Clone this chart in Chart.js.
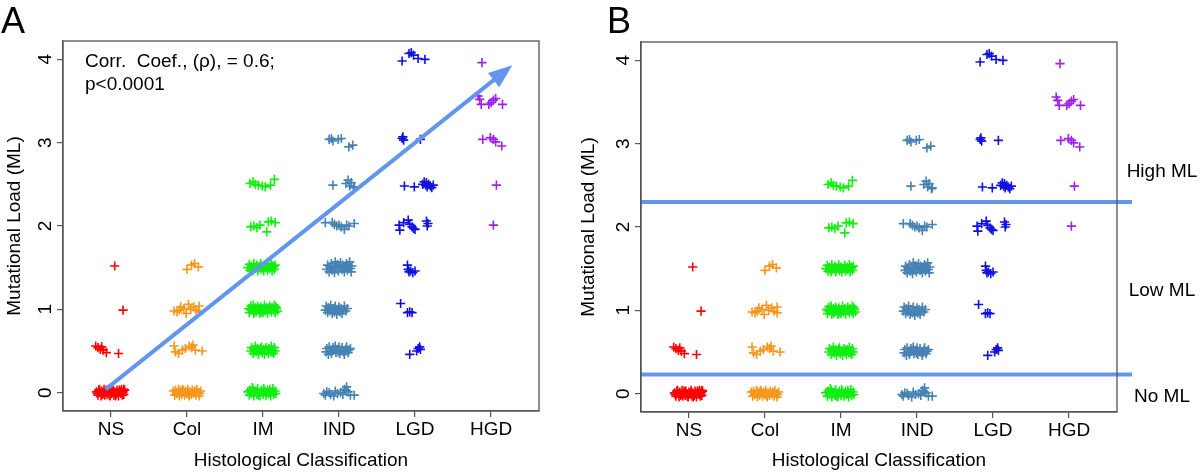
<!DOCTYPE html>
<html><head><meta charset="utf-8">
<script src="https://cdn.jsdelivr.net/npm/chart.js@4.4.0/dist/chart.umd.min.js"></script>
<style>
html,body{margin:0;padding:0;background:#fff;width:1200px;height:476px;overflow:hidden}
#wa{position:absolute;left:0;top:0;width:575px;height:476px}
#wb{position:absolute;left:575px;top:0;width:625px;height:476px}
</style></head><body>
<div id="wa"><canvas id="ca"></canvas></div>
<div id="wb"><canvas id="cb"></canvas></div>
<script>
// ---------- data ----------
const categories = ['NS', 'Col', 'IM', 'IND', 'LGD', 'HGD'];
const yTicks = [0, 1, 2, 3, 4];
const xTitle = 'Histological Classification';
const yTitle = 'Mutational Load (ML)';
const panelLetters = ['A', 'B'];
const corrLines = ['Corr.  Coef., (\u03c1), = 0.6;', 'p<0.0001'];
const zoneNames = ['High ML', 'Low ML', 'No ML'];
const zoneLabelY = [2.66, 1.23, -0.04];
const mlCutoffs = [0.23, 2.30];
const arrowFrom = [0.93, 0.04];
const arrowTo = [6.28, 3.93];

// points: [jitter offset from category, mutational load]
const NS = [
 [-0.19,0.01],[-0.17,-0.03],[-0.16,0.03],[-0.14,0.0],[-0.13,-0.04],[-0.12,0.02],[-0.10,-0.01],[-0.09,0.04],
 [-0.08,-0.03],[-0.07,0.01],[-0.05,-0.02],[-0.04,0.03],[-0.03,0.0],[-0.01,-0.04],[0.0,0.02],[0.01,-0.01],
 [0.03,0.04],[0.04,-0.03],[0.05,0.01],[0.07,-0.02],[0.08,0.03],[0.09,0.0],[0.10,-0.04],[0.12,0.02],
 [0.13,-0.01],[0.14,0.04],[0.15,-0.03],[0.16,0.01],[0.17,-0.02],[0.18,0.03],[-0.18,-0.01],[-0.15,0.04],
 [-0.11,-0.02],[-0.06,0.03],[0.02,0.01],[0.06,-0.04],[0.11,0.03],[0.15,0.0],[-0.02,-0.03],[0.17,0.04],
 [-0.20,0.56],[-0.17,0.54],[-0.14,0.52],[-0.12,0.55],[-0.10,0.51],[-0.06,0.48],[0.10,0.47],
 [0.16,0.99],[0.05,1.52]
];
const Col = [
 [-0.18,0.02],[-0.16,-0.03],[-0.15,0.03],[-0.13,-0.01],[-0.11,0.04],[-0.10,-0.04],[-0.08,0.01],[-0.07,-0.02],
 [-0.05,0.03],[-0.03,-0.03],[-0.02,0.02],[0.0,-0.01],[0.01,0.04],[0.03,-0.04],[0.04,0.01],[0.06,-0.02],
 [0.07,0.03],[0.09,-0.01],[0.10,0.02],[0.12,-0.03],[0.13,0.04],[0.15,0.0],[0.16,-0.04],[0.18,0.02],
 [-0.14,0.0],[-0.06,0.04],[0.02,-0.02],[0.11,0.01],[0.17,-0.01],[-0.09,0.02],
 [-0.17,0.56],[-0.15,0.49],[-0.11,0.47],[-0.06,0.51],[-0.02,0.53],[0.03,0.56],[0.06,0.54],[0.08,0.57],
 [0.11,0.51],[0.20,0.50],
 [-0.17,0.98],[-0.13,0.97],[-0.08,1.03],[-0.04,1.01],[-0.01,0.95],[0.02,1.06],[0.05,1.00],[0.09,1.03],
 [0.12,0.99],[0.16,1.04],[0.16,0.97],[-0.10,0.99],
 [0.0,1.48],[0.06,1.53],[0.10,1.55],[0.15,1.51]
];
const IM = [
 [-0.20,0.01],[-0.18,-0.03],[-0.17,0.03],[-0.15,-0.01],[-0.13,0.04],[-0.12,-0.04],[-0.10,0.02],[-0.08,-0.02],
 [-0.07,0.05],[-0.05,0.0],[-0.04,-0.04],[-0.02,0.03],[0.0,-0.02],[0.01,0.05],[0.03,0.01],[0.04,-0.03],
 [0.06,0.03],[0.07,-0.01],[0.09,0.04],[0.10,-0.04],[0.11,0.01],[0.13,0.05],[0.14,-0.02],[0.16,0.02],
 [0.17,-0.01],[-0.14,0.06],[-0.06,-0.03],[0.02,0.02],[0.08,0.0],[-0.11,0.01],
 [-0.16,0.50],[-0.15,0.54],[-0.13,0.47],[-0.12,0.52],[-0.10,0.56],[-0.09,0.49],[-0.07,0.53],[-0.06,0.46],
 [-0.04,0.51],[-0.02,0.55],[-0.01,0.48],[0.01,0.52],[0.02,0.46],[0.04,0.54],[0.05,0.50],[0.07,0.47],
 [0.08,0.53],[0.10,0.49],[0.11,0.56],[0.13,0.51],[0.14,0.47],[0.15,0.54],[0.16,0.50],[-0.11,0.50],
 [-0.03,0.53],[0.06,0.51],[0.12,0.49],[-0.08,0.51],
 [-0.19,1.01],[-0.18,0.96],[-0.16,1.04],[-0.15,0.99],[-0.13,1.05],[-0.12,0.95],[-0.10,1.02],[-0.09,0.97],
 [-0.07,1.04],[-0.06,0.99],[-0.04,0.95],[-0.03,1.03],[-0.01,1.00],[0.0,0.96],[0.02,1.05],[0.03,0.98],
 [0.05,1.02],[0.06,0.95],[0.08,1.01],[0.09,1.04],[0.11,0.97],[0.12,1.02],[0.14,0.99],[0.15,1.05],
 [0.16,0.96],[0.18,1.01],[0.19,0.98],[-0.17,1.00],[-0.11,0.98],[-0.05,1.01],[0.04,1.00],[0.10,1.00],
 [0.17,1.03],[-0.02,0.97],
 [-0.20,1.50],[-0.18,1.54],[-0.17,1.47],[-0.15,1.52],[-0.13,1.46],[-0.12,1.55],[-0.10,1.49],[-0.08,1.53],
 [-0.07,1.46],[-0.05,1.51],[-0.03,1.55],[-0.02,1.48],[0.0,1.52],[0.01,1.46],[0.03,1.50],[0.05,1.54],
 [0.06,1.47],[0.08,1.52],[0.09,1.49],[0.11,1.55],[0.12,1.46],[0.14,1.51],[0.15,1.48],[0.16,1.53],
 [-0.14,1.49],[-0.09,1.51],[-0.01,1.50],[0.07,1.50],[0.13,1.52],[-0.06,1.49],
 [-0.16,1.99],[-0.12,2.00],[-0.08,1.98],[-0.04,2.01],[0.05,1.93],[0.07,2.05],[0.11,2.06],[0.16,2.04],
 [-0.17,2.51],[-0.13,2.53],[-0.10,2.50],[-0.06,2.49],[-0.01,2.48],[0.03,2.47],[0.10,2.49],[0.15,2.56]
];
const IND = [
 [-0.20,-0.01],[-0.16,0.01],[-0.11,-0.02],[-0.07,-0.04],[-0.02,-0.01],[0.02,0.0],[0.07,0.04],[0.10,0.07],
 [0.12,0.01],[0.15,-0.03],[0.20,-0.03],[-0.13,0.0],[-0.05,0.02],[0.05,-0.02],[0.09,0.03],[-0.18,-0.03],
 [-0.17,0.49],[-0.16,0.53],[-0.14,0.46],[-0.13,0.55],[-0.11,0.50],[-0.10,0.47],[-0.08,0.54],[-0.07,0.51],
 [-0.05,0.56],[-0.04,0.48],[-0.02,0.52],[0.0,0.55],[0.01,0.47],[0.03,0.51],[0.04,0.54],[0.06,0.49],
 [0.07,0.46],[0.09,0.52],[0.10,0.55],[0.12,0.48],[0.13,0.51],[0.15,0.53],[-0.09,0.50],[0.08,0.50],[-0.01,0.49],
 [-0.18,0.99],[-0.17,1.04],[-0.15,0.96],[-0.14,1.02],[-0.12,0.98],[-0.11,1.05],[-0.09,0.95],[-0.08,1.01],
 [-0.06,0.97],[-0.05,1.04],[-0.03,0.94],[-0.02,1.00],[0.0,1.03],[0.01,0.97],[0.03,1.01],[0.04,0.95],
 [0.06,0.99],[0.07,1.04],[0.09,0.98],[0.11,1.01],[-0.13,1.00],[-0.04,0.99],
 [-0.16,1.48],[-0.15,1.53],[-0.13,1.45],[-0.12,1.51],[-0.10,1.55],[-0.09,1.47],[-0.07,1.52],[-0.06,1.44],
 [-0.04,1.50],[-0.02,1.54],[-0.01,1.46],[0.01,1.51],[0.02,1.56],[0.04,1.48],[0.05,1.53],[0.07,1.45],
 [0.08,1.50],[0.10,1.55],[0.11,1.47],[0.12,1.52],[0.14,1.57],[0.15,1.49],[0.16,1.45],[0.17,1.52],
 [-0.11,1.49],[0.0,1.49],[0.09,1.52],[-0.05,1.57],
 [-0.18,2.04],[-0.09,2.04],[-0.06,2.02],[-0.03,2.00],[0.0,2.01],[0.03,1.99],[0.07,1.96],[0.10,2.01],
 [0.13,2.00],[0.20,2.03],
 [-0.08,2.49],[0.09,2.51],[0.12,2.55],[0.14,2.48],[0.16,2.52],[0.19,2.46],[0.20,2.47],
 [-0.13,3.04],[-0.10,3.05],[-0.08,3.02],[-0.01,3.04],[0.03,3.05],[0.13,2.95],[0.18,2.97]
];
const LGD = [
 [-0.07,0.46],[0.02,0.50],[0.04,0.53],[0.06,0.55],[0.07,0.52],
 [-0.19,1.07],[-0.10,0.96],[-0.07,0.97],[-0.04,0.96],
 [-0.10,1.53],[-0.09,1.48],[-0.08,1.45],[-0.06,1.46],[-0.03,1.44],[0.0,1.46],
 [-0.21,2.01],[-0.20,1.95],[-0.15,2.04],[-0.09,2.07],[-0.07,2.02],[-0.04,1.99],[-0.02,1.97],[0.0,1.96],
 [0.15,2.06],[0.16,2.00],[0.17,2.03],
 [-0.14,2.48],[-0.01,2.47],[0.10,2.50],[0.12,2.53],[0.14,2.49],[0.15,2.52],[0.16,2.47],[0.18,2.50],
 [0.20,2.48],[0.22,2.46],[0.24,2.49],
 [-0.16,3.07],[-0.15,3.03],[-0.17,3.05],[0.07,3.04],
 [-0.17,3.98],[-0.08,4.07],[-0.05,4.08],[-0.02,4.05],[0.04,4.01],[0.13,4.00]
];
const HGD = [
 [0.03,2.01],
 [0.07,2.49],
 [-0.11,3.04],[-0.01,3.06],[0.03,3.04],[0.06,3.01],[0.14,2.96],
 [-0.17,3.56],[-0.15,3.52],[-0.13,3.46],[-0.03,3.46],[0.0,3.48],[0.03,3.51],[0.06,3.53],[0.15,3.46],
 [-0.12,3.96]
];
const groups = [NS, Col, IM, IND, LGD, HGD];
const colors = ['#FF0000', '#F7971E', '#11EE11', '#4682B4', '#1010E0', '#A020F0'];
const xRange = [0.37, 6.63];
const yRange = [-0.22, 4.22];

// ---------- drawing ----------
const FONT = "'Liberation Sans', Arial, Helvetica, sans-serif";
Chart.defaults.font.family = FONT;
Chart.defaults.color = '#000';
const AXIS = '#555';
const LINE = '#6495ED';

function datasets() {
  return groups.map((g, i) => ({
    label: categories[i],
    data: g.map(p => ({x: i + 1 + p[0], y: p[1]})),
    pointStyle: 'cross', pointRadius: 4.6, pointHoverRadius: 4.6, pointBorderWidth: 1.6,
    borderColor: colors[i], backgroundColor: colors[i], showLine: false
  }));
}

function scaleCfg(c) {
  const grid = {display: true, drawOnChartArea: false, drawTicks: true, tickLength: 6, color: AXIS, lineWidth: 1.2};
  const border = {display: true, color: AXIS, width: 1.3};
  return {
    x: {
      type: 'linear', min: xRange[0], max: xRange[1],
      afterBuildTicks: s => { s.ticks = categories.map((n, i) => ({value: i + 1})); },
      ticks: {font: {size: 19}, padding: 1, maxRotation: 0, autoSkip: false,
              callback: v => categories[Math.round(v) - 1] ?? ''},
      grid, border,
      title: {display: true, text: xTitle, font: {size: 19}, padding: {top: 0, bottom: 4}},
      afterFit: s => { s.height = c.xh; }
    },
    y: {
      type: 'linear', min: yRange[0], max: yRange[1],
      afterBuildTicks: s => { s.ticks = yTicks.map(v => ({value: v})); },
      ticks: {font: {size: 19}, minRotation: 90, maxRotation: 90, crossAlign: 'center', padding: 6,
              callback: v => String(v)},
      grid, border,
      title: {display: true, text: yTitle, font: {size: 19}, padding: {top: c.ytp, bottom: 0}},
      afterFit: s => { s.width = c.yw; }
    }
  };
}

const boxPlugin = {
  id: 'box',
  afterDraw(ch) {
    const a = ch.chartArea, ctx = ch.ctx;
    ctx.save(); ctx.strokeStyle = AXIS; ctx.lineWidth = 1.3;
    ctx.strokeRect(a.left, a.top, a.right - a.left, a.bottom - a.top);
    ctx.restore();
  }
};

const arrowPlugin = {
  id: 'arrow',
  afterDatasetsDraw(ch) {
    const xs = ch.scales.x, ys = ch.scales.y, ctx = ch.ctx;
    const x0 = xs.getPixelForValue(arrowFrom[0]), y0 = ys.getPixelForValue(arrowFrom[1]);
    const x1 = xs.getPixelForValue(arrowTo[0]), y1 = ys.getPixelForValue(arrowTo[1]);
    const L = Math.hypot(x1 - x0, y1 - y0), ux = (x1 - x0) / L, uy = (y1 - y0) / L;
    const hl = 24, hw = 9;
    const bx = x1 - ux * hl, by = y1 - uy * hl;
    ctx.save();
    ctx.strokeStyle = LINE; ctx.fillStyle = LINE; ctx.lineWidth = 4; ctx.lineCap = 'butt';
    ctx.beginPath(); ctx.moveTo(x0, y0); ctx.lineTo(bx + ux * 2, by + uy * 2); ctx.stroke();
    ctx.beginPath(); ctx.moveTo(x1, y1);
    ctx.lineTo(bx - uy * hw, by + ux * hw); ctx.lineTo(bx + uy * hw, by - ux * hw); ctx.closePath(); ctx.fill();
    ctx.restore();
  }
};

const textA = {
  id: 'textA',
  afterDraw(ch) {
    const a = ch.chartArea, ctx = ch.ctx;
    ctx.save(); ctx.fillStyle = '#000'; ctx.textBaseline = 'alphabetic'; ctx.textAlign = 'left';
    ctx.font = '36px ' + FONT; ctx.fillText(panelLetters[0], 1, 33);
    ctx.font = '19px ' + FONT;
    ctx.fillText(corrLines[0], a.left + 22, a.top + 26);
    ctx.fillText(corrLines[1], a.left + 22, a.top + 49);
    ctx.restore();
  }
};

const cutoffPlugin = {
  id: 'cutoffs',
  afterDatasetsDraw(ch) {
    const a = ch.chartArea, ys = ch.scales.y, ctx = ch.ctx;
    ctx.save(); ctx.strokeStyle = LINE; ctx.lineWidth = 4;
    mlCutoffs.forEach(v => {
      const y = ys.getPixelForValue(v);
      ctx.beginPath(); ctx.moveTo(a.left, y); ctx.lineTo(a.right + 15, y); ctx.stroke();
    });
    ctx.restore();
  }
};

const textB = {
  id: 'textB',
  afterDraw(ch) {
    const a = ch.chartArea, ys = ch.scales.y, ctx = ch.ctx;
    ctx.save(); ctx.fillStyle = '#000';
    ctx.font = '36px ' + FONT; ctx.textBaseline = 'alphabetic'; ctx.textAlign = 'left';
    ctx.fillText(panelLetters[1], 32, 33);
    ctx.font = '19px ' + FONT; ctx.textAlign = 'center'; ctx.textBaseline = 'middle';
    zoneNames.forEach((n, i) => ctx.fillText(n, a.right + 45, ys.getPixelForValue(zoneLabelY[i])));
    ctx.restore();
  }
};

function make(id, c, plugins) {
  return new Chart(document.getElementById(id), {
    type: 'scatter',
    data: {datasets: datasets()},
    options: {
      responsive: true, maintainAspectRatio: false, animation: false,
      layout: {padding: c.pad},
      plugins: {legend: {display: false}, tooltip: {enabled: false}},
      scales: scaleCfg(c)
    },
    plugins: [boxPlugin].concat(plugins)
  });
}

make('ca', {pad: {left: 0, top: 41, right: 36, bottom: 0}, xh: 65, yw: 63, ytp: 3}, [arrowPlugin, textA]);
make('cb', {pad: {left: 0, top: 42, right: 83, bottom: 0}, xh: 64, yw: 66, ytp: 2}, [cutoffPlugin, textB]);
</script>
</body></html>
